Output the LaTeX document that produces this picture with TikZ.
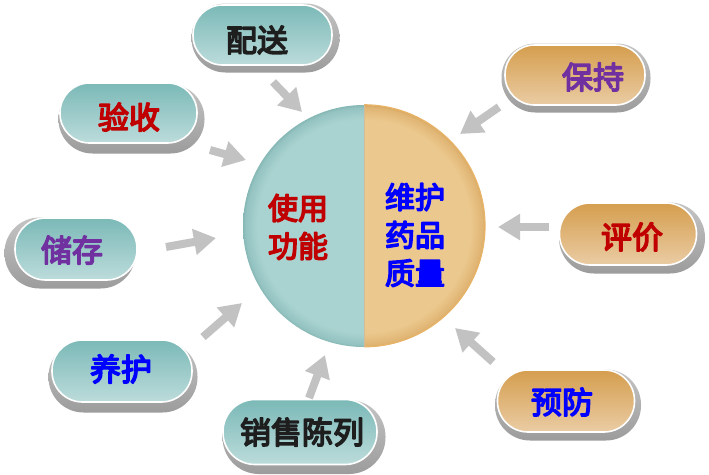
\documentclass[tikz,border=0pt]{standalone}
\usepackage{fontspec}
\setmainfont{Noto Sans CJK SC}
\usetikzlibrary{arrows.meta,calc}
\definecolor{tealtop}{HTML}{7BB9B7}
\definecolor{tealbot}{HTML}{BCDCDB}
\definecolor{orgtop}{HTML}{D59E4E}
\definecolor{orgbot}{HTML}{EACCA4}
\definecolor{shtop}{HTML}{C4C4C4}
\definecolor{shbot}{HTML}{9C9C9C}
\definecolor{arrowgray}{HTML}{C2C2C2}
\definecolor{txtred}{HTML}{C00000}
\definecolor{txtpurple}{HTML}{7030A0}
\definecolor{txtblue}{HTML}{0000FF}
\definecolor{txtdark}{HTML}{1E1E1E}
\definecolor{cltin}{HTML}{A9D3D1}
\definecolor{cltout}{HTML}{86B8B6}
\definecolor{crtin}{HTML}{EBC88E}
\definecolor{crtout}{HTML}{D9A862}
\definecolor{crim}{HTML}{E8B468}
\pgfdeclareradialshading{hubleft}{\pgfpoint{0bp}{0bp}}{color(0bp)=(cltin); color(22bp)=(cltin); color(24.5bp)=(cltout!60!cltin); color(25bp)=(cltout); color(50bp)=(cltout)}
\pgfdeclareradialshading{hubright}{\pgfpoint{0bp}{0bp}}{color(0bp)=(crtin); color(22bp)=(crtin); color(24.5bp)=(crtout!60!crtin); color(25bp)=(crtout); color(50bp)=(crtout)}
% bold by stroking the glyph outlines (text render mode 2)
\newcommand\heavytxt[1]{\special{pdf:literal direct 2 Tr 1.5 w 1 j}#1\special{pdf:literal direct 0 Tr}}
\newcommand\mypill[9]{%
  % #1 name, #2 center, #3 width, #4 height, #5 shadow shift, #6 top, #7 bottom, #8 text pos, #9 text
  \node[shadowpill, minimum width=#3+9, minimum height=#4+9, rounded corners=(#4+9)/2-0.5]
     (#1shadow) at ($#2+#5$) {};
  \node[pillbox, top color=#6, bottom color=#7, minimum width=#3, minimum height=#4,
     rounded corners=#4/2-0.5] (#1) at #2 {};
  \node[pilltext] (#1text) at #8 {#9};
}
\begin{document}
\begin{tikzpicture}[x=1pt,y=-1pt,
  shadowpill/.style={rectangle, inner sep=0pt, top color=shtop, bottom color=shbot, draw=none},
  pillbox/.style={rectangle, inner sep=0pt, draw=white, line width=1.6pt},
  pilltext/.style={inner sep=0pt, font=\fontsize{31}{36}\selectfont},
  hubtext/.style={inner sep=0pt, align=center, font=\fontsize{30}{38}\selectfont},
  flowarrow/.style={draw=arrowgray, line width=8pt, -{Triangle[length=22pt,width=25pt]}}]
\useasboundingbox (0,0) rectangle (709,474);
\fill[white] (0,0) rectangle (709,474);

% central circle
\node[circle, minimum size=242pt, inner sep=0pt,
  path picture={
    \begin{scope}
      \clip (path picture bounding box.north west) rectangle (path picture bounding box.south);
      \shade[shading=hubleft] (path picture bounding box.center) circle[radius=121];
    \end{scope}
    \begin{scope}
      \clip (path picture bounding box.north) rectangle (path picture bounding box.south east);
      \shade[shading=hubright] (path picture bounding box.center) circle[radius=121];
    \end{scope}
  }] (hub) at (364,226) {};
\draw[crim, line width=1.2pt] (hub.north) arc[start angle=-90, end angle=90, radius=121];
\draw[crim!80!black!60, line width=0.6pt] (hub.north) -- (hub.south);
\node[hubtext, text=txtred] (hubleft) at (298,227) {\heavytxt{使用}\\\heavytxt{功能}};
\node[hubtext, text=txtblue] (hubright) at (415,235) {\heavytxt{维护}\\\heavytxt{药品}\\\heavytxt{质量}};

% pills
\mypill{peisong}{(262.5,35)}{139}{60}{(3,3)}{tealtop}{tealbot}{(257,40)}{\color{txtdark}\heavytxt{配送}}
\mypill{yanshou}{(128.5,113)}{137}{60}{(3,6)}{tealtop}{tealbot}{(129,117)}{\color{txtred}\heavytxt{验收}}
\mypill{chucun}{(76,249)}{122}{62}{(-6,4)}{tealtop}{tealbot}{(72,250)}{\color{txtpurple}\heavytxt{储存}}
\mypill{yanghu}{(122,371)}{140}{62}{(1,6)}{tealtop}{tealbot}{(121,369)}{\color{txtblue}\heavytxt{养护}}
\mypill{xiaoshou}{(300,432)}{154}{65}{(4,5)}{tealtop}{tealbot}{(302,432)}{\color{txtdark}\heavytxt{销售陈列}}
\mypill{baochi}{(575,75)}{140}{60}{(1,3)}{orgtop}{orgbot}{(593,77)}{\color{txtpurple}\heavytxt{保持}}
\mypill{pingjia}{(628,234)}{137}{62}{(4,4)}{orgtop}{orgbot}{(632,237)}{\color{txtred}\heavytxt{评价}}
\mypill{yufang}{(566,401)}{137}{62}{(2,4)}{orgtop}{orgbot}{(562,402)}{\color{txtblue}\heavytxt{预防}}

% arrows
\coordinate (t1) at (273,82);  \coordinate (h1) at (302,112);
\coordinate (t2) at (210,150); \coordinate (h2) at (246,160);
\coordinate (t3) at (166,247); \coordinate (h3) at (216,238);
\coordinate (t4) at (203,337); \coordinate (h4) at (242,303);
\coordinate (t5) at (309,398); \coordinate (h5) at (325,355);
\coordinate (t6) at (549,227); \coordinate (h6) at (498,227);
\coordinate (t7) at (499,107); \coordinate (h7) at (460,134);
\coordinate (t8) at (493,362); \coordinate (h8) at (455,328);
\foreach \i in {1,...,8} {\draw[flowarrow] (t\i) -- (h\i);}
\end{tikzpicture}
\end{document}
